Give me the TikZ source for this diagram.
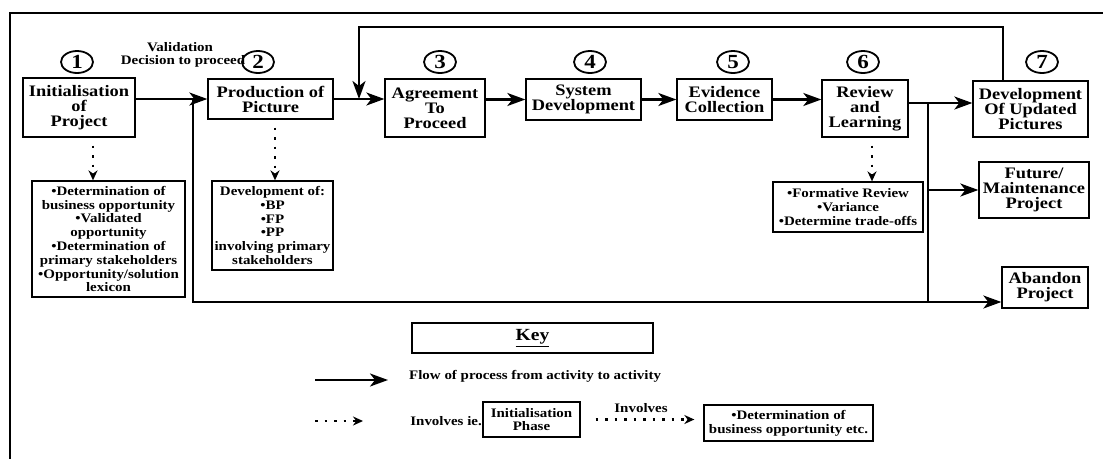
\documentclass[tikz,border=0pt]{standalone}
\usepackage{fontspec}
\setmainfont{Liberation Serif}[FakeStretch=1.15]
\usetikzlibrary{arrows.meta,shapes.geometric}

\begin{document}
\begin{tikzpicture}[x=1pt,y=-1pt,
  box/.style={draw,line width=1.3pt,align=center,inner sep=1pt,
    font=\fontsize{16}{15}\selectfont\bfseries},
  detail/.style={draw,line width=1.3pt,align=center,inner sep=1pt,
    font=\fontsize{13}{13.8}\selectfont\bfseries},
  small/.style={inner sep=0pt,align=center,font=\fontsize{13}{14}\selectfont\bfseries},
  num/.style={draw,ellipse,line width=1.8pt,minimum width=32pt,minimum height=22pt,
    inner sep=0pt,font=\fontsize{20}{20}\selectfont\bfseries},
  flow/.style={line width=2.2pt,-{Stealth[length=18pt,width=13pt,inset=5pt]}},
  link/.style={line width=2.2pt},
  inv/.style={line width=2.5pt,dash pattern=on 2.5pt off 7pt,-{Stealth[length=10pt,width=9pt]}},
  frame/.style={line width=1.3pt}]
\useasboundingbox (0,0) rectangle (1103,459);

% outer frame (top and left edges)
\draw[frame] (1103,13) -- (10,13) -- (10,459);

% activity boxes
\node[box,minimum width=112pt,minimum height=59pt] (b1) at (79,107.5) {Initialisation\\of\\Project};
\node[box,minimum width=125pt,minimum height=40pt] (b2) at (270.5,99) {Production of\\Picture};
\node[box,minimum width=100pt,minimum height=58pt] (b3) at (435,108) {Agreement\\To\\Proceed};
\node[box,minimum width=115pt,minimum height=41pt] (b4) at (583.5,99.5) {System\\Development};
\node[box,minimum width=95pt,minimum height=41pt] (b5) at (724.5,99.5) {Evidence\\Collection};
\node[box,minimum width=86pt,minimum height=57pt] (b6) at (865,108.5) {Review\\and\\Learning};
\node[box,minimum width=115pt,minimum height=56pt] (b7) at (1030.5,109) {Development\\Of Updated\\Pictures};
\node[box,minimum width=110pt,minimum height=56pt] (fut) at (1034,190) {Future/\\Maintenance\\Project};
\node[box,minimum width=86pt,minimum height=41pt] (ab) at (1045,287.5) {Abandon\\Project};

% step numbers
\node[small] (val1) at (180,47) {Validation};
\node[small] (val2) at (183,61) {Decision to proceed};
\node[num] (n1) at (77,62) {1};
\node[num] (n2) at (258,62) {2};
\node[num] (n3) at (440,62) {3};
\node[num] (n4) at (590,62) {4};
\node[num] (n5) at (733,62) {5};
\node[num] (n6) at (863,62) {6};
\node[num] (n7) at (1042,62) {7};

% detail boxes
\node[detail,minimum width=153pt,minimum height=116pt] (d1) at (108.5,239)
  {•Determination of\\business opportunity\\•Validated\\opportunity\\•Determination of\\primary stakeholders\\•Opportunity/solution\\lexicon};
\node[detail,minimum width=121pt,minimum height=89pt] (d2) at (272.5,225.5)
  {Development of:\\•BP\\•FP\\•PP\\involving primary\\stakeholders};
\node[detail,minimum width=150pt,minimum height=50pt] (d6) at (848,207)
  {•Formative Review\\•Variance\\•Determine trade-offs};

% junction points of the flow lines
\coordinate (j1) at (193,99);
\coordinate (jb) at (193,302);
\coordinate (r1) at (928,103);
\coordinate (t1) at (1003,27);
\coordinate (t2) at (359,27);
\coordinate (p1) at (93,0);
\coordinate (p2) at (275,0);
\coordinate (p6) at (872,0);

% process flow
\draw[flow] (b1.east |- b2.west) -- (b2.west);
\draw[flow] (j1) -- (jb) -- (ab.west |- jb);
\draw[flow] (b2.east) -- (b3.west |- b2.east);
\draw[flow] (b3.east |- b4.west) -- (b4.west);
\draw[flow] (b4.east) -- (b5.west);
\draw[flow] (b5.east) -- (b6.west |- b5.east);
\draw[flow] (b6.east |- r1) -- (b7.west |- r1);
\draw[link] (r1) -- (r1 |- jb);
\draw[flow] (r1 |- fut.west) -- (fut.west);
\draw[flow] (b7.north -| t1) -- (t1) -- (t2) -- (t2 |- b2.east);

% involvement links
\draw[inv,shorten <=8pt] (b1.south -| p1) -- (d1.north -| p1);
\draw[inv,shorten <=8pt] (b2.south -| p2) -- (d2.north -| p2);
\draw[inv,shorten <=8pt] (b6.south -| p6) -- (d6.north -| p6);

% key
\node[draw,line width=1.3pt,minimum width=241pt,minimum height=30pt,
  font=\fontsize{17}{17}\selectfont\bfseries] (key) at (532.5,338) {\underline{Key}};
\coordinate (k1) at (315,380);
\coordinate (k2) at (388,380);
\draw[flow] (k1) -- (k2);
\node[small,anchor=west] (kflow) at (409,376) {Flow of process from activity to activity};
\coordinate (k3) at (315,421);
\coordinate (k4) at (363,421);
\draw[inv] (k3) -- (k4);
\node[small,anchor=east] (kinv) at (482,421) {Involves ie.};
\node[detail,minimum width=97pt,minimum height=35pt] (ip) at (531.5,419.5) {Initialisation\\Phase};
\node[detail,minimum width=169pt,minimum height=36pt] (det) at (788.5,423)
  {•Determination of\\business opportunity etc.};
\draw[inv,shorten <=15pt,shorten >=9pt] (ip.east) -- (det.west |- ip.east);
\node[small] (kinv2) at (641,408) {Involves};
\end{tikzpicture}
\end{document}
